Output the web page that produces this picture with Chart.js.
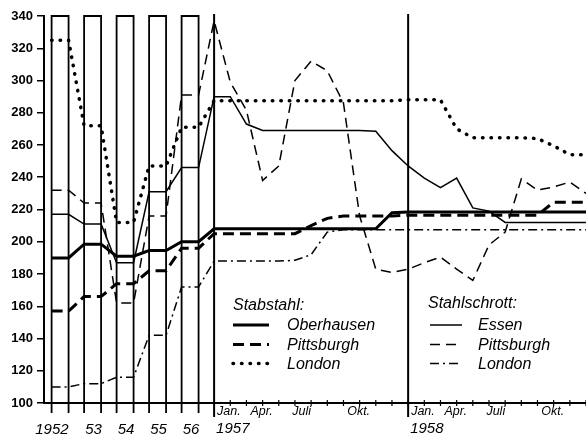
<!DOCTYPE html>
<html lang="de">
<head>
<meta charset="utf-8">
<title>Stabstahl- und Stahlschrottpreise</title>
<script src="https://cdn.jsdelivr.net/npm/chart.js@4/dist/chart.umd.min.js"></script>
<style>
  html, body { margin: 0; padding: 0; background: #fff; }
  canvas { display: block; }
</style>
</head>
<body>
<canvas id="grafico" width="586" height="437"></canvas>
<script>
// Jahresmittel 1952 - 1956
const jahre = ['1952', '53', '54', '55', '56'];
const oberhausenJahr        = [190, 198.5, 191, 194.5, 200];
const pittsburghStabJahr    = [157, 166, 174, 182, 196];
const londonStabJahr        = [325, 272, 212, 247, 271];
const essenJahr             = [217, 211, 187, 231, 246];
const pittsburghSchrottJahr = [232, 224, 162, 216, 291];
const londonSchrottJahr     = [110, 112, 116, 142, 172];

// Monatswerte Jan. 1957 - Dez. 1958
const oberhausenMonat = [208, 208, 208, 208, 208, 208, 208, 208, 208, 208, 208, 218,
                         218.5, 218.5, 218.5, 218.5, 218.5, 218.5, 218.5, 218.5, 218.5, 218.5, 218.5, 218.5];
const pittsburghStabMonat = [205, 205, 205, 205, 205, 205, 210, 214.5, 216, 216, 216, 216,
                             216.5, 216.5, 216.5, 216.5, 216.5, 216.5, 216.5, 216.5, 216.5, 224.5, 224.5, 224.5];
const londonStabMonat = [287.5, 287.5, 287.5, 287.5, 287.5, 287.5, 287.5, 287.5, 287.5, 287.5, 287.5, 287.5,
                         288, 288, 288, 270, 264.5, 264.5, 264.5, 264.5, 264, 259.5, 254, 254];
const essenMonat = [290, 290, 273, 269, 269, 269, 269, 269, 269, 269, 268.5, 256.5,
                    247, 239.5, 233.5, 239.5, 221, 219, 212, 212, 212, 212, 212, 212];
const pittsburghSchrottMonat = [337, 299, 281.5, 238, 247, 300, 312, 306, 286, 216, 183, 181,
                                183, 187, 190.5, 183, 176, 198, 206, 239, 232, 234, 237, 230];
const londonSchrottMonat = [188, 188, 188, 188, 188, 188.5, 192, 206, 207.5, 207.5, 207.5, 207.5,
                            207.5, 207.5, 207.5, 207.5, 207.5, 207.5, 207.5, 207.5, 207.5, 207.5, 207.5, 207.5];

const monatsLabels = ['Jan.', 'Apr.', 'Juli', 'Okt.'];
const monatsJahre = ['1957', '1958'];

// Lage der Jahressäulen auf der Monatsachse (Jan. 1957 = 0)
const spalteLinks = i => -10.05 + i * 2.01;
const spalteBreite = 1.05;

function punkte(jahr, monat) {
    const p = [];
    jahr.forEach((v, i) => {
        p.push({x: spalteLinks(i), y: v});
        p.push({x: spalteLinks(i) + spalteBreite, y: v});
    });
    monat.forEach((v, m) => p.push({x: m, y: v}));
    return p;
}

function linie(label, data, breite, strich, kappe) {
    return {
        label: label,
        data: data,
        borderColor: '#000',
        borderWidth: breite,
        borderDash: strich || [],
        borderCapStyle: kappe || 'butt',
        pointRadius: 0,
        tension: 0,
        fill: false
    };
}

const datensaetze = [
    linie('Oberhausen', punkte(oberhausenJahr, oberhausenMonat), 3),
    linie('Pittsburgh', punkte(pittsburghStabJahr, pittsburghStabMonat), 3, [11, 6]),
    linie('London', punkte(londonStabJahr, londonStabMonat), 3.5, [0.5, 8], 'round'),
    linie('Essen', punkte(essenJahr, essenMonat), 1.5),
    linie('Pittsburgh', punkte(pittsburghSchrottJahr, pittsburghSchrottMonat), 1.5, [10, 6]),
    linie('London', punkte(londonSchrottJahr, londonSchrottMonat), 1.5, [9, 4, 2, 4])
];

function muster(ctx, ds, x1, x2, yy) {
    ctx.save();
    ctx.lineWidth = ds.borderWidth;
    ctx.setLineDash(ds.borderDash);
    ctx.lineCap = ds.borderCapStyle;
    ctx.beginPath();
    ctx.moveTo(x1, yy);
    ctx.lineTo(x2, yy);
    ctx.stroke();
    ctx.restore();
}

const rahmen = {
    id: 'rahmen',
    beforeDatasetsDraw(chart) {
        const {ctx, scales: {x, y}} = chart;
        const oben = y.getPixelForValue(340);
        const unten = y.getPixelForValue(100);
        ctx.save();
        ctx.strokeStyle = '#000';
        ctx.lineWidth = 1.8;
        jahre.forEach((j, i) => {
            const l = x.getPixelForValue(spalteLinks(i));
            const r = x.getPixelForValue(spalteLinks(i) + spalteBreite);
            ctx.beginPath();
            ctx.moveTo(l, unten + 10);
            ctx.lineTo(l, oben);
            ctx.lineTo(r, oben);
            ctx.lineTo(r, unten + 10);
            ctx.stroke();
        });
        // Trennlinien Jan. 1957 / Jan. 1958
        ctx.lineWidth = 2;
        [0, 12].forEach(m => {
            const px = x.getPixelForValue(m);
            ctx.beginPath();
            ctx.moveTo(px, oben - 2);
            ctx.lineTo(px, unten + 14);
            ctx.stroke();
        });
        // Monatsstriche
        ctx.lineWidth = 1.2;
        for (let m = 1; m < essenMonat.length; m++) {
            const px = x.getPixelForValue(m);
            ctx.beginPath();
            ctx.moveTo(px, unten - 3);
            ctx.lineTo(px, unten + 3);
            ctx.stroke();
        }
        ctx.restore();
    },
    afterDraw(chart) {
        const {ctx, scales: {x, y}} = chart;
        const unten = y.getPixelForValue(100);
        ctx.save();
        ctx.fillStyle = '#000';
        ctx.strokeStyle = '#000';
        ctx.textBaseline = 'middle';

        ctx.font = 'italic 15px "Liberation Sans", sans-serif';
        jahre.forEach((j, i) => {
            const l = x.getPixelForValue(spalteLinks(i));
            const r = x.getPixelForValue(spalteLinks(i) + spalteBreite);
            if (j.length === 4) {
                ctx.textAlign = 'right';
                ctx.fillText(j, r, unten + 27);
            } else {
                ctx.textAlign = 'center';
                ctx.fillText(j, (l + r) / 2 + 1, unten + 27);
            }
        });
        monatsJahre.forEach((j, k) => {
            ctx.textAlign = 'left';
            ctx.fillText(j, x.getPixelForValue(k * 12) + 2, unten + 26);
        });

        ctx.font = 'italic 12.5px "Liberation Sans", sans-serif';
        monatsJahre.forEach((j, k) => {
            monatsLabels.forEach((t, n) => {
                const px = x.getPixelForValue(k * 12 + n * 3);
                if (n === 0) {
                    ctx.textAlign = 'left';
                    ctx.fillText(t, px + 3, unten + 9);
                } else if (t === 'Juli') {
                    ctx.textAlign = 'right';
                    ctx.fillText(t, px, unten + 9);
                } else {
                    ctx.textAlign = 'center';
                    ctx.fillText(t, px - 1, unten + 9);
                }
            });
        });

        // Legende
        const ds = chart.data.datasets;
        ctx.textAlign = 'left';
        ctx.textBaseline = 'alphabetic';
        ctx.font = 'italic 16px "Liberation Sans", sans-serif';
        ctx.fillText('Stabstahl:', 233, 310);
        ctx.fillText('Stahlschrott:', 428, 308);
        const zeilen = [330, 349.5, 368.5];
        for (let k = 0; k < 3; k++) {
            ctx.fillText(ds[k].label, 287, zeilen[k]);
            muster(ctx, ds[k], 233, 269, zeilen[k] - 5);
            ctx.fillText(ds[k + 3].label, 478, zeilen[k]);
            muster(ctx, ds[k + 3], 430, 462, zeilen[k] - 5);
        }
        ctx.restore();
    }
};

new Chart(document.getElementById('grafico'), {
    type: 'line',
    data: { datasets: datensaetze },
    options: {
        responsive: false,
        animation: false,
        layout: { padding: { top: 16, right: 0, bottom: 0, left: 0 } },
        plugins: {
            legend: { display: false },
            tooltip: { enabled: false }
        },
        scales: {
            x: {
                type: 'linear',
                min: -10.52,
                max: 23,
                grid: { display: false },
                ticks: { display: false },
                border: { display: true, color: '#000', width: 2 },
                afterFit: scale => { scale.height = 34; }
            },
            y: {
                min: 100,
                max: 340,
                ticks: {
                    stepSize: 20,
                    color: '#000',
                    padding: 4,
                    font: { family: 'Liberation Sans', weight: 'bold', size: 13 }
                },
                grid: {
                    display: true,
                    drawOnChartArea: false,
                    drawTicks: true,
                    tickLength: 7,
                    color: '#000',
                    lineWidth: 1.5
                },
                border: { display: true, color: '#000', width: 2 },
                afterFit: scale => { scale.width = 44; }
            }
        }
    },
    plugins: [rahmen]
});
</script>
</body>
</html>
